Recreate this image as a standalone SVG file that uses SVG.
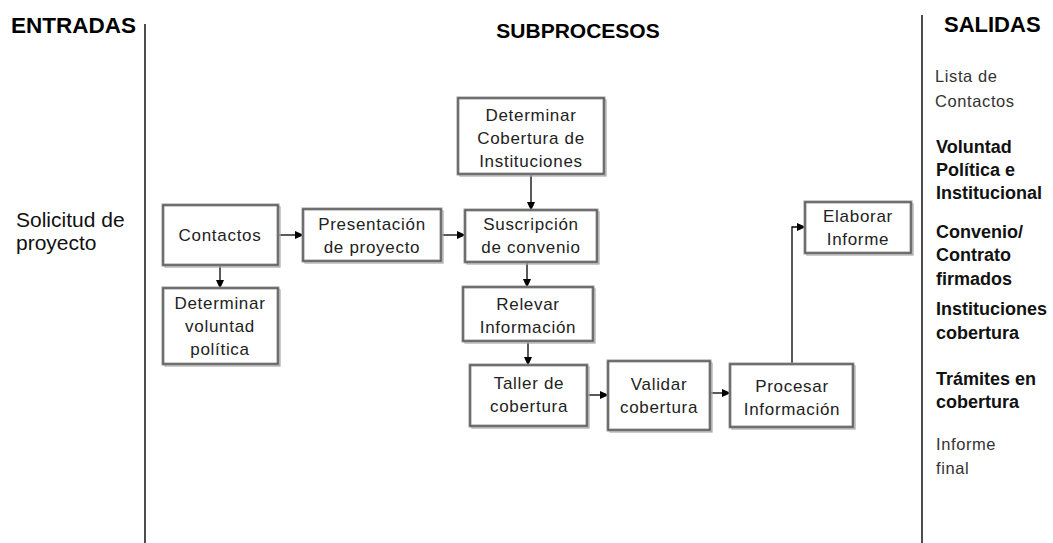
<svg xmlns="http://www.w3.org/2000/svg" width="1053" height="543" viewBox="0 0 1053 543">
  <style>
    text { font-family: "Liberation Sans", Arial, "DejaVu Sans", sans-serif; }
    .hdr { font-size: 21px; font-weight: bold; fill: #000; }
    .lbl { font-size: 17px; fill: #222; letter-spacing: 0.7px; text-anchor: middle; }
    .in { font-size: 21px; fill: #111; }
    .out { font-size: 16.5px; fill: #333; letter-spacing: 0.6px; }
    .outb { font-size: 18px; font-weight: bold; fill: #111; }
    .shadow { fill: none; stroke: #a8a8a8; stroke-width: 1.2; }
    .frame { fill: #fff; stroke: #9a9a9a; stroke-width: 3; }
    .edge { fill: none; stroke: #444; stroke-width: 1; }
    .divider { stroke: #000; stroke-width: 1.4; }
    .conn { fill: none; stroke: #000; stroke-width: 1.3; }
  </style>
  <defs>
    <marker id="arrow" markerWidth="9" markerHeight="8" refX="8" refY="4" orient="auto" markerUnits="userSpaceOnUse">
      <path d="M0,0 L9,4 L0,8 Z" fill="#000"/>
    </marker>
  </defs>

  <rect width="1053" height="543" fill="#fff"/>

  <!-- column headers and dividers -->
  <g id="headers">
    <text class="hdr" x="11" y="33" style="font-size:22.5px">ENTRADAS</text>
    <text class="hdr" x="578" y="38" text-anchor="middle">SUBPROCESOS</text>
    <text class="hdr" x="944" y="32" style="font-size:22px">SALIDAS</text>
    <line class="divider" x1="145" y1="24" x2="145" y2="543"/>
    <line class="divider" x1="922" y1="15" x2="922" y2="543"/>
  </g>

  <!-- input -->
  <g id="input">
    <text class="in" x="16" y="227">Solicitud de</text>
    <text class="in" x="16" y="250">proyecto</text>
  </g>

  <!-- outputs -->
  <g id="outputs">
    <text class="out" x="935" y="82">Lista de</text>
    <text class="out" x="935" y="107">Contactos</text>
    <text class="outb" x="936" y="153">Voluntad</text>
    <text class="outb" x="936" y="176">Política e</text>
    <text class="outb" x="936" y="199">Institucional</text>
    <text class="outb" x="936" y="238">Convenio/</text>
    <text class="outb" x="936" y="261">Contrato</text>
    <text class="outb" x="936" y="285">firmados</text>
    <text class="outb" x="936" y="315">Instituciones</text>
    <text class="outb" x="936" y="339">cobertura</text>
    <text class="outb" x="936" y="385">Trámites en</text>
    <text class="outb" x="936" y="408">cobertura</text>
    <text class="out" x="936" y="450">Informe</text>
    <text class="out" x="936" y="474">final</text>
  </g>

  <!-- connectors -->
  <g id="connectors">
    <line class="conn" x1="279" y1="235" x2="303" y2="235" marker-end="url(#arrow)"/>
    <line class="conn" x1="442" y1="235" x2="465" y2="235" marker-end="url(#arrow)"/>
    <line class="conn" x1="220" y1="266" x2="220" y2="288" marker-end="url(#arrow)"/>
    <line class="conn" x1="531" y1="175" x2="531" y2="210" marker-end="url(#arrow)"/>
    <line class="conn" x1="527" y1="263" x2="527" y2="287" marker-end="url(#arrow)"/>
    <line class="conn" x1="528" y1="342" x2="528" y2="365" marker-end="url(#arrow)"/>
    <line class="conn" x1="588" y1="395" x2="608" y2="395" marker-end="url(#arrow)"/>
    <line class="conn" x1="711" y1="393" x2="730" y2="393" marker-end="url(#arrow)"/>
    <polyline class="conn" points="792,364 792,227 805,227" marker-end="url(#arrow)"/>
  </g>

  <!-- process boxes -->
  <g id="contactos">
    <rect class="shadow" x="165" y="207" width="115" height="60"/>
    <rect class="frame" x="163" y="205" width="115" height="60"/>
    <rect class="edge" x="163" y="205" width="115" height="60"/>
    <text class="lbl" x="220" y="241">Contactos</text>
  </g>
  <g id="determinar-voluntad">
    <rect class="shadow" x="165" y="290" width="115" height="76"/>
    <rect class="frame" x="163" y="288" width="115" height="76"/>
    <rect class="edge" x="163" y="288" width="115" height="76"/>
    <text class="lbl" x="220" y="309">Determinar</text>
    <text class="lbl" x="220" y="332">voluntad</text>
    <text class="lbl" x="220" y="355">política</text>
  </g>
  <g id="presentacion">
    <rect class="shadow" x="305" y="211" width="138" height="52"/>
    <rect class="frame" x="303" y="209" width="138" height="52"/>
    <rect class="edge" x="303" y="209" width="138" height="52"/>
    <text class="lbl" x="372" y="230">Presentación</text>
    <text class="lbl" x="372" y="253">de proyecto</text>
  </g>
  <g id="determinar-cobertura">
    <rect class="shadow" x="460" y="100" width="146" height="76"/>
    <rect class="frame" x="458" y="98" width="146" height="76"/>
    <rect class="edge" x="458" y="98" width="146" height="76"/>
    <text class="lbl" x="531" y="121">Determinar</text>
    <text class="lbl" x="531" y="144">Cobertura de</text>
    <text class="lbl" x="531" y="167">Instituciones</text>
  </g>
  <g id="suscripcion">
    <rect class="shadow" x="467" y="212" width="132" height="52"/>
    <rect class="frame" x="465" y="210" width="132" height="52"/>
    <rect class="edge" x="465" y="210" width="132" height="52"/>
    <text class="lbl" x="531" y="230">Suscripción</text>
    <text class="lbl" x="531" y="253">de convenio</text>
  </g>
  <g id="relevar">
    <rect class="shadow" x="465" y="289" width="130" height="54"/>
    <rect class="frame" x="463" y="287" width="130" height="54"/>
    <rect class="edge" x="463" y="287" width="130" height="54"/>
    <text class="lbl" x="528" y="310">Relevar</text>
    <text class="lbl" x="528" y="333">Información</text>
  </g>
  <g id="taller">
    <rect class="shadow" x="472" y="367" width="117" height="61"/>
    <rect class="frame" x="470" y="365" width="117" height="61"/>
    <rect class="edge" x="470" y="365" width="117" height="61"/>
    <text class="lbl" x="529" y="389">Taller de</text>
    <text class="lbl" x="529" y="412">cobertura</text>
  </g>
  <g id="validar">
    <rect class="shadow" x="610" y="363" width="102" height="69"/>
    <rect class="frame" x="608" y="361" width="102" height="69"/>
    <rect class="edge" x="608" y="361" width="102" height="69"/>
    <text class="lbl" x="659" y="390">Validar</text>
    <text class="lbl" x="659" y="413">cobertura</text>
  </g>
  <g id="procesar">
    <rect class="shadow" x="732" y="366" width="123" height="63"/>
    <rect class="frame" x="730" y="364" width="123" height="63"/>
    <rect class="edge" x="730" y="364" width="123" height="63"/>
    <text class="lbl" x="792" y="392">Procesar</text>
    <text class="lbl" x="792" y="415">Información</text>
  </g>
  <g id="elaborar">
    <rect class="shadow" x="807" y="204" width="106" height="51"/>
    <rect class="frame" x="805" y="202" width="106" height="51"/>
    <rect class="edge" x="805" y="202" width="106" height="51"/>
    <text class="lbl" x="858" y="222">Elaborar</text>
    <text class="lbl" x="858" y="245">Informe</text>
  </g>
</svg>
